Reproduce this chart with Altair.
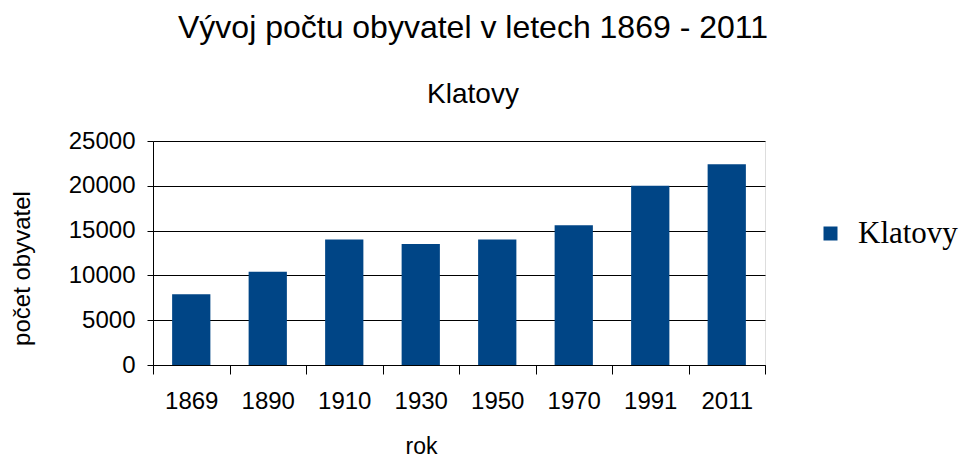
import altair as alt
import pandas as pd

years = ["1869", "1890", "1910", "1930", "1950", "1970", "1991", "2011"]
population = [7900, 10400, 14000, 13500, 14000, 15600, 20000, 22400]
series_name = "Klatovy"
y_ticks = [0, 5000, 10000, 15000, 20000, 25000]

df = pd.DataFrame({"rok": years, "pocet": population, "serie": [series_name] * len(years)})

SANS = "Liberation Sans"

chart = (
    alt.Chart(df)
    .mark_bar(width=alt.RelativeBandSize(0.5), color="#004586")
    .encode(
        x=alt.X(
            "rok:N",
            sort=None,
            scale=alt.Scale(paddingInner=0, paddingOuter=0),
            axis=alt.Axis(
                title="rok",
                labelAngle=0,
                tickBand="extent",
                tickSize=9,
                tickColor="black",
                domainColor="black",
                labelPadding=15,
                labelFontSize=24,
                labelFont=SANS,
                labelColor="black",
                titleFont=SANS,
                titleFontSize=23,
                titleFontWeight="normal",
                titleColor="black",
                titleX=268,
                titleY=81,
                titleBaseline="middle",
                grid=False,
            ),
        ),
        y=alt.Y(
            "pocet:Q",
            scale=alt.Scale(domain=[0, 25000], nice=False),
            axis=alt.Axis(
                title="počet obyvatel",
                values=y_ticks,
                format="d",
                tickSize=6,
                tickColor="black",
                domainColor="black",
                gridColor="black",
                gridOpacity=1,
                labelPadding=12,
                labelFontSize=24,
                labelFont=SANS,
                labelColor="black",
                titleFont=SANS,
                titleFontSize=24,
                titleFontWeight="normal",
                titleColor="black",
                titleX=-131,
                titleY=127,
                titleBaseline="middle",
            ),
        ),
        color=alt.Color(
            "serie:N",
            scale=alt.Scale(range=["#004586"]),
            legend=alt.Legend(
                title=None,
                orient="none",
                legendX=662,
                legendY=77,
                symbolType="square",
                symbolSize=196,
                symbolStrokeWidth=0,
                labelFont="Liberation Serif",
                labelFontSize=31,
                labelColor="black",
                labelOffset=12,
            ),
        ),
    )
    .properties(
        width=612,
        height=224,
        autosize=alt.AutoSizeParams(type="none"),
        padding={"left": 145, "top": 133, "right": 201, "bottom": 100},
        title=alt.TitleParams(
            text="Vývoj počtu obyvatel v letech 1869 - 2011",
            subtitle="Klatovy",
            anchor="middle",
            dx=14,
            offset=19,
            font=SANS,
            fontSize=32,
            fontWeight="normal",
            color="black",
            subtitleFont=SANS,
            subtitleFontSize=28,
            subtitleColor="black",
            subtitlePadding=36,
        ),
    )
    .configure_view(stroke="black", strokeWidth=1)
    .configure(background="white")
)

chart.save("out.html", embed_options={"renderer": "svg", "actions": False})
